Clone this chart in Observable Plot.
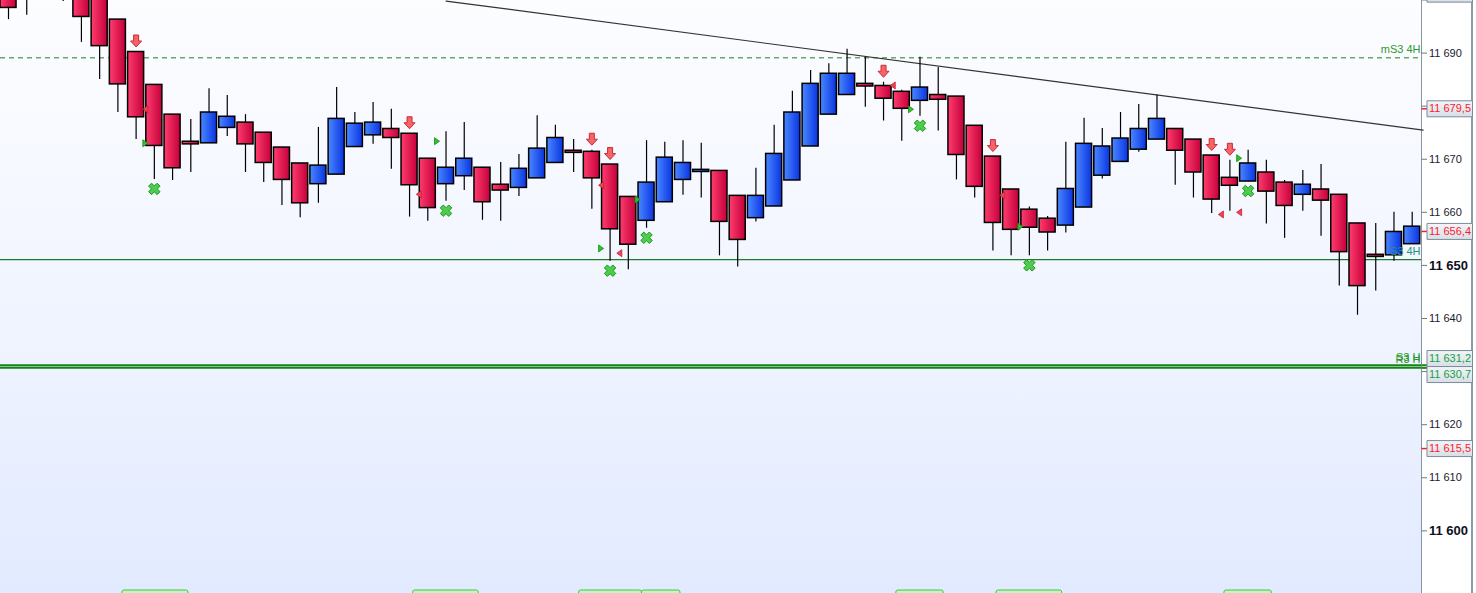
<!DOCTYPE html>
<html><head><meta charset="utf-8">
<script src="https://cdn.jsdelivr.net/npm/d3@7"></script>
<script src="https://cdn.jsdelivr.net/npm/@observablehq/plot@0.6"></script>
<style>
html,body{margin:0;padding:0;background:#fff;}
#chart{width:1476px;height:593px;overflow:hidden;position:relative;}
#chart svg{overflow:hidden;display:block;}
</style></head><body><div id="chart"></div>
<script>
// ---- data (prices) ----
const openP = [11705,11704,11701,11708,11706,11702,11696.3,11690.2,11684.0,11678.4,
11673.3,11673.0,11675.9,11676.9,11675.0,11672.2,11669.2,11665.3,11667.1,11672.3,
11674.5,11675.7,11674.8,11670.1,11665.3,11666.8,11668.4,11665.2,11664.6,11666.4,
11669.3,11671.6,11671.4,11669.0,11662.9,11658.4,11661.9,11666.1,11667.6,11667.8,
11663.1,11658.9,11661.1,11666.0,11672.4,11678.4,11682.1,11684.2,11683.8,11682.7,
11681.0,11682.1,11681.8,11676.3,11670.5,11664.3,11660.5,11658.8,11657.5,11660.9,
11666.9,11669.5,11671.8,11673.7,11675.7,11673.7,11670.7,11666.5,11665.8,11667.5,
11665.6,11663.3,11664.3,11663.3,11657.9,11652.0,11651.9,11654.0];
const closeP = [11698.5,11701,11706,11703,11696.8,11691.3,11684.1,11677.9,11672.5,11668.3,
11672.8,11678.8,11678.0,11672.8,11669.3,11666.1,11661.7,11668.8,11677.6,11676.7,
11676.9,11674.0,11665.1,11660.8,11668.4,11670.1,11661.9,11664.1,11668.2,11672.0,
11674.0,11671.2,11666.4,11656.8,11653.9,11665.6,11670.3,11669.3,11668.0,11658.2,
11654.8,11663.1,11671.0,11678.8,11684.2,11686.1,11686.1,11683.7,11681.4,11679.5,
11683.5,11681.2,11670.8,11664.8,11658.0,11656.7,11657.1,11656.2,11664.4,11672.9,
11672.4,11673.9,11675.7,11677.6,11671.6,11667.5,11662.4,11665.0,11669.2,11663.9,
11661.2,11665.2,11662.2,11652.5,11646.1,11651.6,11656.3,11657.3];
const highP = [11708,11706,11708,11710,11708,11703,11696.3,11690.2,11684.0,11678.4,
11677.5,11683.3,11682.0,11678.4,11675.0,11672.2,11669.2,11676.0,11683.5,11678.8,
11680.7,11679.4,11674.8,11670.1,11675.2,11676.9,11668.4,11669.4,11670.9,11678.2,
11676.4,11673.7,11671.7,11669.0,11662.9,11673.5,11673.2,11673.5,11673.0,11667.8,
11663.1,11668.3,11676.4,11682.8,11686.7,11688.0,11690.7,11689.2,11684.5,11683.0,
11689.2,11687.3,11681.8,11676.3,11670.5,11664.3,11661.0,11659.2,11673.2,11677.7,
11675.8,11678.8,11680.3,11682.1,11675.7,11673.7,11670.7,11669.8,11671.7,11669.8,
11666.0,11667.9,11669.0,11663.3,11657.9,11657.9,11660.0,11660.0];
const lowP = [11696.3,11697.1,11700.5,11699.7,11692.0,11685.0,11678.8,11673.7,11666.2,11666.0,
11667.5,11673.0,11674.3,11667.5,11665.6,11661.3,11659.0,11661.7,11667.1,11672.3,
11672.8,11668.1,11659.1,11658.3,11662.1,11664.1,11658.5,11658.3,11663.0,11666.4,
11669.3,11667.5,11660.6,11650.8,11649.2,11657.0,11661.9,11663.2,11662.7,11651.8,
11649.7,11658.2,11661.1,11666.0,11672.4,11678.4,11682.1,11679.8,11677.2,11673.4,
11678.1,11675.3,11666.1,11662.7,11652.7,11651.8,11651.8,11652.7,11656.1,11660.9,
11666.3,11669.5,11671.3,11673.7,11665.1,11662.7,11659.8,11660.2,11665.8,11657.8,
11655.1,11660.2,11655.5,11646.1,11640.6,11645.2,11650.8,11654.0];

// signals (candle indexes / prices)
const sellArrowIdx = [7,22,32,33,48,54,66,67];
const crossIdx = [8,24,33,35,50,56,68];
const redTriIdx = [8,23,33,34,49,55,67,68];
const redTriP = [11679.4,11663.4,11665.1,11652.3,11683.9,11663.2,11659.6,11660.0];
const greenTriIdx = [8,24,33,35,50,56,68];
const greenTriP = [11673.0,11673.4,11653.2,11662.4,11679.4,11657.3,11670.2];

// bottom tabs (candle-index spans)
const tabStart = [6.25,22.2,31.3,34.75,48.7,54.2,66.7];
const tabEnd   = [9.87,25.8,34.75,36.86,51.3,57.8,69.3];

// levels
const levelNames  = ["mS3 4H","S3 4H","S3 H","R3 H"];
const levelValues = [11689.1,11651.1,11631.2,11630.7];
const levelDashed = [true,false,false,false];

// trendline anchors
const trendIdx = [24, 77.6];
const trendP   = [11699.8, 11675.5];

// price boxes on the axis
const boxValues = [11701.1,11679.5,11656.4,11631.2,11630.7,11615.5];
const boxKinds  = ["plain","red","red","green","green","red"];

// axis ticks
const yTicks = d3.range(11600, 11701, 10);

// ---- layout ----
const W = 1476, H = 593;
const X_MIN = -0.439, X_MAX = 77.51;
const Y_MIN = 11588.2, Y_MAX = 11699.9;
const ppu = H / (Y_MAX - Y_MIN);
const toPx = v => (Y_MAX - v) * ppu;
const toP = px => Y_MAX - px / ppu;

const candles = openP.map((o,i)=>({i, o, c: closeP[i], h: highP[i], l: lowP[i]}));
const ups = candles.filter(d => d.c >= d.o);
const downs = candles.filter(d => d.c < d.o);
const arrows = sellArrowIdx.map(i => ({i, p: highP[i]}));
const crosses = crossIdx.map(i => ({i, p: lowP[i]}));
const redTris = redTriIdx.map((i,k)=>({i, p: redTriP[k]}));
const greenTris = greenTriIdx.map((i,k)=>({i, p: greenTriP[k]}));
const tabs = tabStart.map((s,k)=>({s, e: tabEnd[k]}));
const levels = levelNames.map((n,k)=>({n, v: levelValues[k], dashed: levelDashed[k]}));
const trend = trendIdx.map((i,k)=>({i, p: trendP[k]}));

const fmtInt = v => String(Math.round(v)).replace(/\B(?=(\d{3})+(?!\d))/g, " ");
const fmtDec = v => { const s = v.toFixed(1).split("."); return fmtInt(+s[0]) + "," + s[1]; };

// spread overlapping axis boxes
const BOX_H = 16;
let boxes = boxValues.map((v,k)=>({v, kind: boxKinds[k], px: toPx(v)})).sort((a,b)=>a.px-b.px);
let groups = boxes.map(b => [b]);
let changed = true;
const center = g => d3.mean(g, b => b.px);
const placed = g => { const c = center(g); return g.map((b,j)=> c + (j - (g.length-1)/2) * BOX_H); };
while (changed) {
  changed = false;
  for (let k = 0; k < groups.length - 1; k++) {
    const a = placed(groups[k]), b = placed(groups[k+1]);
    if (b[0] - a[a.length-1] < BOX_H) { groups.splice(k, 2, groups[k].concat(groups[k+1])); changed = true; break; }
  }
}
groups.forEach(g => { const pos = placed(g); g.forEach((b,j)=> { b.labelPx = pos[j]; b.labelP = toP(pos[j]); }); });
const kindText = {plain: "#1a1a2e", red: "#ff1a2a", green: "#16a03c"};
const kindTick = {plain: "#6c7a88", red: "#ff1a2a", green: "#138a13"};

// tick labels hidden behind a price box are not drawn (as in the terminal)
const visibleTicks = yTicks.filter(v => boxes.every(b => Math.abs(b.labelPx - toPx(v)) >= 14));

// ---- symbols ----
const arrowSym = {draw(c){ c.moveTo(-2.5,-6); c.lineTo(2.5,-6); c.lineTo(2.5,0); c.lineTo(5.5,0); c.lineTo(0,6); c.lineTo(-5.5,0); c.lineTo(-2.5,0); c.closePath(); }};
const xSym = {draw(c){
  const a = 2.1, L = 6, s = Math.SQRT1_2;
  const pts = [[-a,-L],[a,-L],[a,-a],[L,-a],[L,a],[a,a],[a,L],[-a,L],[-a,a],[-L,a],[-L,-a],[-a,-a]]
    .map(([x,y]) => [(x-y)*s, (x+y)*s]);
  c.moveTo(pts[0][0], pts[0][1]); pts.slice(1).forEach(p => c.lineTo(p[0], p[1])); c.closePath();
}};
const leftTri = {draw(c){ c.moveTo(-2.5,0); c.lineTo(2.5,-3.5); c.lineTo(2.5,3.5); c.closePath(); }};
const rightTri = {draw(c){ c.moveTo(2.5,0); c.lineTo(-2.5,-3.5); c.lineTo(-2.5,3.5); c.closePath(); }};
const tickSym = {draw(c){ c.moveTo(0,0); c.lineTo(5.5,0); }};
const boxSym = {draw(c){ c.rect(5.5,-8,45.5,16); }};

const atEdge = () => X_MAX;
const font = "Liberation Sans, Arial, sans-serif";

const svg = Plot.plot({
  width: W, height: H,
  marginLeft: 0, marginRight: W - 1421, marginTop: 0, marginBottom: 0,
  x: {domain: [X_MIN, X_MAX], axis: null},
  y: {domain: [Y_MIN, Y_MAX], axis: null},
  style: {fontFamily: font, overflow: "hidden"},
  marks: [
    // bottom tabs
    Plot.rect(tabs, {x1: "s", x2: "e", y1: Y_MIN + 3/ppu, y2: Y_MIN - 6/ppu, fill: "#c8f1c8", stroke: "#3fcc3f", strokeWidth: 1, rx: 2}),
    // level lines
    Plot.ruleY(levels.filter(d => d.dashed), {y: "v", stroke: "#1f7f1f", strokeWidth: 1, strokeDasharray: "5,4"}),
    Plot.ruleY(levels.filter(d => !d.dashed && d.v > 11640), {y: "v", stroke: "#1f7a2a", strokeWidth: 1.3}),
    Plot.ruleY(levels.filter(d => d.v < 11640), {y: "v", stroke: "#128412", strokeWidth: 2}),
    // trendline
    Plot.line(trend, {x: "i", y: "p", stroke: "#333", strokeWidth: 1.2}),
    // candles
    Plot.ruleX(candles, {x: "i", y1: "l", y2: "h", stroke: "#000", strokeWidth: 1.2}),
    Plot.rect(downs, {x1: d => d.i - 0.44, x2: d => d.i + 0.44, y1: "o", y2: "c", fill: "url(#gRed)", stroke: "#000", strokeWidth: 1.5}),
    Plot.rect(ups, {x1: d => d.i - 0.44, x2: d => d.i + 0.44, y1: "o", y2: "c", fill: "url(#gBlue)", stroke: "#000", strokeWidth: 1.5}),
    // signals
    Plot.dot(arrows, {x: "i", y: "p", symbol: arrowSym, dy: -11, fill: "#f26666", stroke: "#d0283a", strokeWidth: 1}),
    Plot.dot(crosses, {x: "i", y: "p", symbol: xSym, dy: 9.5, fill: "#4ccd4c", stroke: "#1e961e", strokeWidth: 1}),
    Plot.dot(redTris, {x: "i", y: "p", symbol: leftTri, dx: -9, fill: "#ee4455", stroke: "#c82030", strokeWidth: 0.8}),
    Plot.dot(greenTris, {x: "i", y: "p", symbol: rightTri, dx: -9, fill: "#33c033", stroke: "#118e11", strokeWidth: 0.8}),
    // level labels
    Plot.text(levels.filter(d => d.n === "mS3 4H"), {x: atEdge, y: "v", text: "n", textAnchor: "end", dx: -1, dy: -8, fontSize: 11, fill: "#2c9a2c"}),
    Plot.text(levels.filter(d => d.n === "S3 4H"), {x: atEdge, y: "v", text: "n", textAnchor: "end", dx: -1, dy: -8, fontSize: 11, fill: "#22947a"}),
    Plot.text(levels.filter(d => d.v < 11640), {x: atEdge, y: "v", text: "n", textAnchor: "end", dx: -1, dy: -8, fontSize: 11, fill: "#2a9a2a"}),
    // axis ticks and labels
    Plot.dot(yTicks, {x: atEdge, y: d => d, symbol: tickSym, fill: "none", stroke: "#6c7a88", strokeWidth: 1}),
    Plot.text(visibleTicks.filter(v => v % 50 !== 0), {x: atEdge, y: d => d, text: fmtInt, dx: 7.5, textAnchor: "start", fontSize: 11, fill: "#1a1a2e"}),
    Plot.text(visibleTicks.filter(v => v % 50 === 0), {x: atEdge, y: d => d, text: fmtInt, dx: 7.5, textAnchor: "start", fontSize: 13, fontWeight: "bold", fill: "#101020"}),
    // price boxes
    ...["plain","red","green"].map(k => Plot.dot(boxes.filter(b => b.kind === k), {x: atEdge, y: "v", symbol: tickSym, fill: "none", stroke: kindTick[k], strokeWidth: k === "green" ? 2 : 1.5})),
    Plot.dot(boxes, {x: atEdge, y: "labelP", symbol: boxSym, fill: "url(#gBox)", stroke: "#7d8b99", strokeWidth: 1}),
    ...["plain","red","green"].map(k => Plot.text(boxes.filter(b => b.kind === k), {x: atEdge, y: "labelP", text: d => fmtDec(d.v), dx: 7.5, textAnchor: "start", fontSize: 11, fill: kindText[k]}))
  ]
});

const defs = d3.select(svg).insert("defs", ":first-child");
const grad = (id, vertical, stops) => {
  const g = defs.append("linearGradient").attr("id", id).attr("x1", 0).attr("y1", 0).attr("x2", vertical ? 0 : 1).attr("y2", vertical ? 1 : 0);
  stops.forEach(([o, c]) => g.append("stop").attr("offset", o).attr("stop-color", c));
};
grad("gRed", false, [[0, "#ff3d6e"], [1, "#c4003a"]]);
grad("gBlue", false, [[0, "#4a88ff"], [1, "#0a34e2"]]);
grad("gBox", true, [[0, "#f2f5f9"], [1, "#d8dfe8"]]);

svg.style.background =
  "linear-gradient(to right, rgba(255,255,255,0) 1421px, #8795a3 1421px, #8795a3 1422px, #ffffff 1422px, #ffffff 1471px, #8c99a6 1471px, #8c99a6 1473px, #ffffff 1473px)," +
  "linear-gradient(to bottom, #fcfdff 0%, #f1f5ff 50%, #e2eaff 100%)";
document.getElementById("chart").appendChild(svg);
</script>
</body></html>
